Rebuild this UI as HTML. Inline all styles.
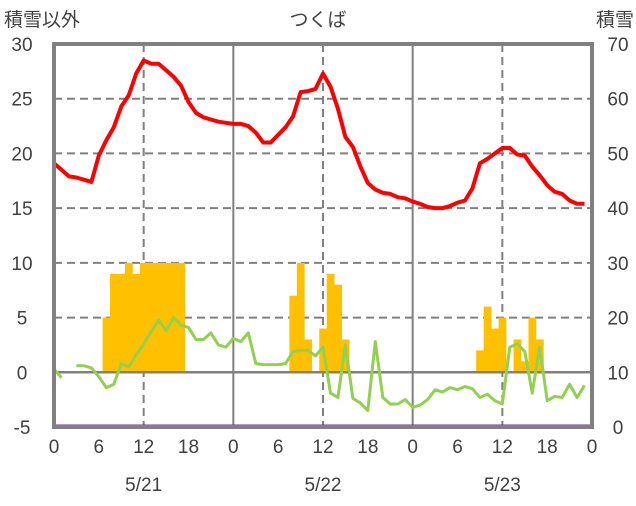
<!DOCTYPE html>
<html><head><meta charset="utf-8"><style>
body{margin:0;background:#fff;width:636px;height:501px;overflow:hidden}
svg text{font-family:"Liberation Sans","Noto Sans CJK JP",sans-serif;fill:#404040}
</style></head><body>
<svg id="c" width="636" height="501"></svg>
<script>
const hours=[...Array(72).keys()];
const temp=[19.1,18.5,17.9,17.8,17.6,17.4,19.8,21.2,22.4,24.3,25.3,27.3,28.5,28.2,28.2,27.6,27.0,26.2,24.7,23.7,23.3,23.1,22.9,22.8,22.7,22.7,22.5,21.9,21.0,21.0,21.7,22.4,23.4,25.6,25.7,25.9,27.3,26.1,24.1,21.5,20.6,18.8,17.3,16.7,16.4,16.3,16.0,15.9,15.6,15.4,15.1,15.0,15.0,15.2,15.5,15.7,16.8,19.1,19.5,20.0,20.5,20.5,19.9,19.8,18.8,18.0,17.1,16.5,16.3,15.7,15.4,15.4];
const other=[0.3,-0.5,null,0.6,0.6,0.4,-0.4,-1.4,-1.1,0.8,0.5,1.6,2.6,3.7,4.8,3.8,5.0,4.3,4.1,3.0,3.0,3.6,2.5,2.3,3.1,2.8,3.6,0.8,0.7,0.7,0.7,0.8,1.9,2.0,2.0,1.5,2.3,-1.9,-2.3,2.5,-2.4,-2.8,-3.5,2.8,-2.3,-2.9,-2.9,-2.5,-3.2,-3.0,-2.5,-1.6,-1.8,-1.4,-1.6,-1.3,-1.5,-2.3,-2.0,-2.6,-2.9,2.3,2.6,1.9,-1.9,2.3,-2.6,-2.2,-2.3,-1.1,-2.3,-1.2];
const snowHours=[7,8,9,10,11,12,13,14,15,16,17,32,33,34,36,37,38,39,57,58,59,60,62,63,64,65];
const snowVals=[5,9,9,10,9,10,10,10,10,10,10,7,10,3,4,9,8,3,2,6,4,5,3,1,5,3];
const leftTicks=[-5,0,5,10,15,20,25,30];
const rightTicks=[0,10,20,30,40,50,60,70];
const xTicks=[0,6,12,18,0,6,12,18,0,6,12,18,0];
const dates=["5/21","5/22","5/23"];
const L=54,R=592,T=44,B=427;
const x=h=>L+(R-L)*h/72;
const y=v=>B-(B-T)*(v+5)/35;
const yr=v=>B-(B-T)*v/70;
const svg=document.getElementById('c');
const NS='http://www.w3.org/2000/svg';
function add(tag,at,txt){const e=document.createElementNS(NS,tag);for(const k in at)e.setAttribute(k,at[k]);if(txt!=null)e.textContent=txt;svg.appendChild(e);return e;}
// grid
leftTicks.forEach(v=>{if(v>-5&&v<30&&v!==0){const g=add('line',{x1:L,x2:R,y1:y(v),y2:y(v),stroke:'#808080','stroke-width':2,'stroke-dasharray':'8,5'});}});
[12,36,60].forEach(h=>{const g=add('line',{x1:x(h),x2:x(h),y1:T,y2:B,stroke:'#808080','stroke-width':2,'stroke-dasharray':'8,5'});});
[24,48].forEach(h=>{const g=add('line',{x1:x(h),x2:x(h),y1:T,y2:B,stroke:'#808080','stroke-width':2});});
// bars
snowHours.forEach((h,i)=>{const b=add('rect',{x:x(h-0.5),y:y(snowVals[i]),width:x(1)-x(0)+0.3,height:y(0)-y(snowVals[i]),fill:'#FFC000'});});
const z=add('line',{x1:L,x2:R,y1:y(0),y2:y(0),stroke:'#808080','stroke-width':2.5});
// green
let segs=[],cur=[];other.forEach((v,i)=>{if(v==null){if(cur.length)segs.push(cur);cur=[];}else cur.push(x(i).toFixed(1)+','+y(v).toFixed(1));});if(cur.length)segs.push(cur);
segs.forEach(s=>{const p=add('polyline',{points:s.join(' '),fill:'none',stroke:'#92D050','stroke-width':3,'stroke-linejoin':'round'});});
// red
const rp=add('polyline',{points:temp.map((v,i)=>x(i).toFixed(1)+','+y(v).toFixed(1)).join(' '),fill:'none',stroke:'#FF0000','stroke-width':4,'stroke-linejoin':'round'});
// purple
const pl=add('line',{x1:L,x2:R,y1:B-1,y2:B-1,stroke:'#7030A0','stroke-width':3});
// frame
const f=add('rect',{x:L,y:T,width:R-L,height:B-T,fill:'none',stroke:'#808080','stroke-width':4});
// ticks
leftTicks.forEach(v=>{const t=add('text',{x:22,y:y(v)+7,'text-anchor':'middle','font-size':19},v);});
rightTicks.forEach(v=>{const t=add('text',{x:618,y:yr(v)+7,'text-anchor':'middle','font-size':19},v);});
xTicks.forEach((v,i)=>{const t=add('text',{x:x(i*6),y:453,'text-anchor':'middle','font-size':19},v);});
dates.forEach((d,i)=>{const t=add('text',{x:x(12+24*i),y:491,'text-anchor':'middle','font-size':19},d);});
let t=add('text',{x:4,y:26,'font-size':19},'積雪以外');
t=add('text',{x:318,y:26,'text-anchor':'middle','font-size':19},'つくば');
t=add('text',{x:634,y:26,'text-anchor':'end','font-size':19},'積雪');
</script>
</body></html>
